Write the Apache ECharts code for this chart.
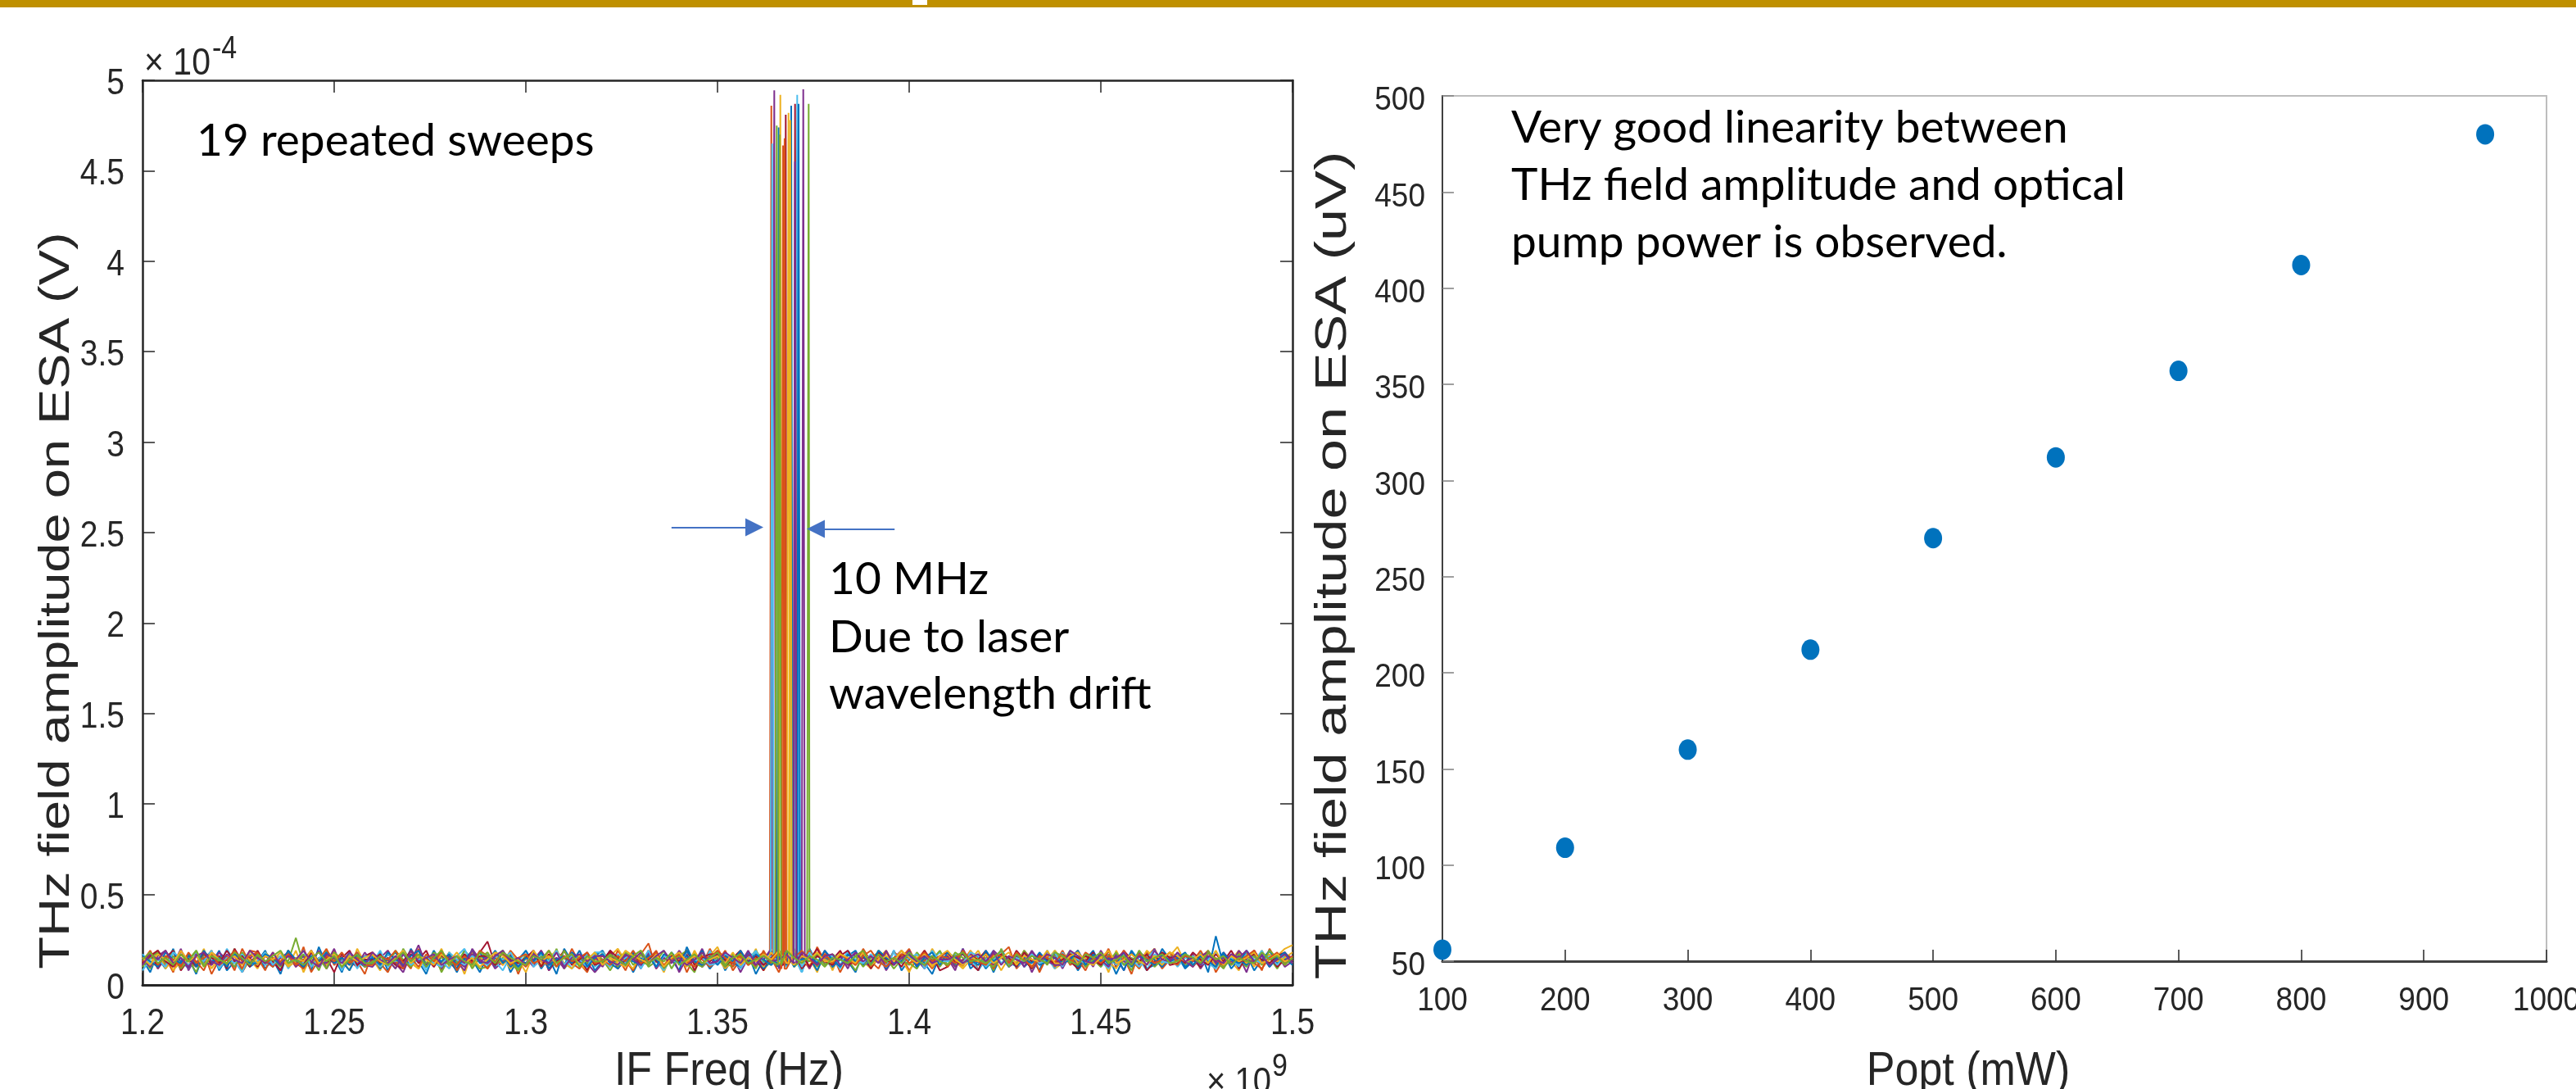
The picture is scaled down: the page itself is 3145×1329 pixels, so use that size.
<!DOCTYPE html>
<html>
<head>
<meta charset="utf-8">
<title>THz sweeps and linearity</title>
<script src="https://cdn.jsdelivr.net/npm/echarts@6/dist/echarts.min.js"></script>
<style>
  html, body { margin: 0; padding: 0; background: #fff; }
  #chart { width: 3145px; height: 1329px; }
</style>
</head>
<body>
<div id="chart"></div>
<script>
// sweep frequency grid (x1e9 Hz)
const FREQ_GHZ = [
  1.200, 1.202, 1.204, 1.206, 1.208, 1.210, 1.212, 1.214, 1.216, 1.218,
  1.220, 1.222, 1.224, 1.226, 1.228, 1.230, 1.232, 1.234, 1.236, 1.238,
  1.240, 1.242, 1.244, 1.246, 1.248, 1.250, 1.252, 1.254, 1.256, 1.258,
  1.260, 1.262, 1.264, 1.266, 1.268, 1.270, 1.272, 1.274, 1.276, 1.278,
  1.280, 1.282, 1.284, 1.286, 1.288, 1.290, 1.292, 1.294, 1.296, 1.298,
  1.300, 1.302, 1.304, 1.306, 1.308, 1.310, 1.312, 1.314, 1.316, 1.318,
  1.320, 1.322, 1.324, 1.326, 1.328, 1.330, 1.332, 1.334, 1.336, 1.338,
  1.340, 1.342, 1.344, 1.346, 1.348, 1.350, 1.352, 1.354, 1.356, 1.358,
  1.360, 1.362, 1.364, 1.366, 1.368, 1.370, 1.372, 1.374, 1.376, 1.378,
  1.380, 1.382, 1.384, 1.386, 1.388, 1.390, 1.392, 1.394, 1.396, 1.398,
  1.400, 1.402, 1.404, 1.406, 1.408, 1.410, 1.412, 1.414, 1.416, 1.418,
  1.420, 1.422, 1.424, 1.426, 1.428, 1.430, 1.432, 1.434, 1.436, 1.438,
  1.440, 1.442, 1.444, 1.446, 1.448, 1.450, 1.452, 1.454, 1.456, 1.458,
  1.460, 1.462, 1.464, 1.466, 1.468, 1.470, 1.472, 1.474, 1.476, 1.478,
  1.480, 1.482, 1.484, 1.486, 1.488, 1.490, 1.492, 1.494, 1.496, 1.498,
  1.500
]

// noise floor of each sweep, in uV (1e-6 V), one value per grid point
const sweep01 = [14,7,18,11,20,9,15,6,17,12,19,8,13,16,10, 17,9,14,6,19,12,16,8,21,11,15,7,18,13,10, 12,18,8,15,10,20,13,6,17,11,16,9,19,14,7, 16,10,19,7,14,12,18,9,15,6,20,13,11,17,8, 13,19,9,16,7,15,11,18,10,14,8,21,12,16,9, 18,8,15,11,17,6,14,19,10,13,16,7,20,12,15, 9,16,13,7,18,11,15,10,19,8,14,17,12,6,16, 15,11,20,9,13,17,7,16,12,18,10,14,8,19,11, 12,17,8,14,19,10,16,6,15,13,18,9,11,20,14, 16,9,13,18,7,27,11,15,10,17,8,14,19,12,16, 13]
const sweep02 = [11,17,9,15,7,19,13,10,18,6,14,16,8,20,12, 15,8,18,12,16,10,21,7,14,11,19,9,17,13,6, 18,12,7,16,14,9,20,11,15,8,17,13,10,19,14, 9,15,11,18,6,16,13,19,8,14,10,20,12,7,17, 14,10,19,13,8,17,23,9,15,12,18,7,16,11,20, 12,18,8,14,16,10,19,13,7,17,11,15,9,21,13, 17,7,15,11,20,13,9,18,12,16,8,14,19,10,15, 10,16,13,19,8,15,11,17,21,9,14,18,7,16,12, 19,11,14,8,17,12,20,10,15,6,18,13,16,9,14, 13,17,10,15,19,7,14,12,18,11,16,8,20,13,17, 15]
const sweep03 = [16,10,14,19,8,13,17,11,20,9,15,12,18,7,14, 9,17,12,15,10,19,7,16,13,11,18,14,8,20,12, 14,8,19,11,17,13,9,15,12,20,10,16,6,18,13, 18,12,15,9,14,7,17,11,19,13,10,16,12,8,15, 11,16,20,13,9,18,12,15,7,17,14,10,19,11,16, 15,9,13,17,11,20,8,14,16,10,18,12,15,7,19, 8,18,11,16,13,9,15,19,12,14,7,17,10,20,13, 17,13,9,14,19,11,16,8,15,12,18,10,13,16,9, 12,15,18,10,13,17,7,19,11,14,9,16,20,12,15, 14,11,16,9,18,12,15,13,8,17,10,19,12,16,20, 22]
const sweep04 = [13,18,9,15,11,20,8,16,12,17,10,14,19,7,15, 17,11,14,8,19,13,16,10,15,12,20,9,13,18,11, 10,15,19,12,7,17,14,11,18,9,16,13,8,20,14, 16,9,13,17,12,15,10,19,8,14,11,18,15,12,7, 12,19,11,14,16,9,18,13,10,17,7,15,12,20,10, 18,13,16,7,15,11,14,20,9,13,17,10,16,11,19, 11,16,9,18,13,10,17,8,15,19,12,14,9,16,13, 15,8,20,12,14,17,11,16,10,13,18,7,15,12,17, 9,17,13,16,10,19,12,15,8,18,11,14,20,10,15, 14,12,17,9,15,11,18,13,16,7,19,12,14,17,10, 13]
const sweep05 = [15,9,17,12,19,10,14,7,18,13,16,11,20,8,14, 12,18,10,16,13,26,11,15,8,19,14,10,17,12,16, 17,11,14,9,20,13,16,10,18,7,15,12,19,14,9, 10,16,19,12,8,15,13,17,11,20,9,14,16,12,18, 14,8,15,18,11,17,10,13,19,9,16,12,7,18,13, 19,12,10,15,14,9,18,11,16,13,20,8,15,10,17, 11,17,14,8,16,12,19,15,9,14,11,18,13,16,10, 16,10,18,13,11,15,8,20,12,17,14,9,16,11,19, 13,19,9,16,14,10,17,12,15,8,19,13,11,18,12, 17,11,15,12,19,13,9,16,14,10,18,12,15,9,16, 14]
const sweep06 = [8,14,19,11,16,13,9,18,12,15,10,20,13,7,17, 16,11,13,18,9,15,12,19,10,14,17,8,16,12,14, 12,19,10,14,17,11,15,8,18,13,9,16,20,11,15, 17,13,8,16,12,19,10,14,11,18,15,9,13,17,10, 14,10,17,12,19,9,16,13,8,15,18,11,14,10,19, 11,16,13,9,15,18,12,17,14,10,16,7,19,13,12, 15,9,18,14,11,16,13,10,19,12,15,17,9,14,18, 13,17,11,15,8,14,19,12,16,10,13,18,11,15,9, 18,12,15,10,17,13,9,16,11,19,14,8,17,12,16, 10,15,13,18,12,9,16,14,11,17,13,19,10,15,12, 14]
const sweep07 = [13,17,10,15,19,8,14,12,18,11,16,9,20,13,15, 10,16,13,8,18,14,11,19,12,15,7,17,13,10,16, 18,12,15,11,9,17,14,19,10,16,13,8,15,12,18, 24,11,14,17,10,16,12,18,9,13,19,11,15,8,17, 12,18,9,14,16,11,19,13,10,15,12,17,8,16,13, 16,10,15,19,12,14,8,17,13,11,18,9,14,20,11, 14,19,11,13,17,9,16,12,15,10,18,13,11,16,8, 10,15,17,12,8,18,13,16,11,19,14,9,17,12,15, 17,13,9,16,14,11,19,10,15,12,17,8,13,18,11, 12,16,14,10,18,13,11,17,9,15,19,12,16,10,14, 15]
const sweep08 = [17,11,15,9,18,13,16,10,14,19,8,15,12,17,10, 13,19,10,16,12,15,9,18,11,14,17,13,8,16,12, 16,9,14,18,11,13,17,10,19,12,15,7,16,13,18, 11,15,17,10,14,19,12,16,9,15,11,18,13,10,16, 19,12,9,15,13,11,17,14,10,18,13,16,12,19,9, 14,17,12,10,18,15,9,13,16,11,19,12,15,8,17, 10,14,16,19,11,13,17,9,15,12,18,10,14,16,13, 15,12,18,11,16,9,14,19,13,10,15,17,11,13,18, 12,18,10,14,13,17,11,16,8,19,12,15,14,10,16, 16,10,13,17,15,12,18,9,14,11,16,13,19,12,15, 11]
const sweep09 = [12,16,19,10,14,11,17,13,8,18,15,12,16,9,19, 18,13,10,15,17,12,9,16,14,20,11,15,13,18,10, 14,10,17,13,9,19,15,12,16,11,18,8,14,17,13, 9,17,12,19,14,10,16,13,11,18,15,12,9,16,14, 16,13,15,8,18,12,14,19,10,13,17,11,16,14,10, 13,19,10,16,11,15,18,12,14,9,17,13,19,11,15, 17,11,14,13,19,10,16,12,18,15,20,11,14,9,16, 10,15,18,12,14,17,9,16,13,11,19,14,12,17,10, 15,12,16,10,17,13,19,11,15,14,9,18,12,16,13, 11,17,13,19,12,15,10,16,14,18,12,9,15,13,17, 12]
const sweep10 = [15,12,18,9,14,17,11,16,13,19,10,15,12,17,14, 11,18,14,16,10,13,19,12,15,9,17,14,11,16,13, 17,10,13,15,19,12,9,16,14,11,18,13,16,10,15, 13,16,11,18,12,14,17,10,15,19,12,9,16,14,11, 18,14,12,10,16,19,13,15,11,17,14,12,18,10,16, 21,11,17,14,13,16,10,18,12,15,19,13,11,16,14, 12,17,15,11,18,13,16,10,14,19,12,15,17,11,13, 16,13,10,19,14,12,17,15,11,13,18,10,16,14,19, 14,18,12,15,11,16,13,9,17,14,12,19,15,11,16, 21,12,16,13,18,10,15,14,19,12,16,11,17,13,15, 18]
const sweep11 = [14,10,16,19,12,15,9,17,13,11,18,14,10,16,12, 17,13,11,15,18,10,14,12,19,9,16,13,15,11,18, 12,16,14,9,17,13,22,11,15,18,12,14,10,17,13, 15,11,18,13,10,16,14,19,12,15,9,17,13,11,16, 10,17,13,16,14,11,18,9,15,12,19,13,16,10,14, 18,12,15,10,17,13,11,16,14,19,12,15,9,17,13, 13,16,11,18,12,15,17,10,14,13,19,11,16,12,15, 16,10,14,17,13,11,19,15,12,16,10,18,14,13,11, 11,15,19,12,16,14,10,17,13,11,18,15,12,16,14, 15,13,10,16,18,12,15,11,19,14,12,17,10,15,13, 16]
const sweep12 = [10,15,18,12,16,9,14,19,11,17,13,15,10,18,12, 16,12,14,10,19,13,17,11,15,9,18,14,12,16,10, 13,17,11,19,14,10,16,12,18,15,11,13,17,9,15, 18,11,15,13,9,17,12,16,14,10,19,12,15,13,17, 12,16,10,18,15,13,11,17,9,14,16,19,12,10,15, 15,10,17,12,14,19,13,11,16,18,10,14,13,17,11, 17,14,12,16,10,15,18,13,11,17,12,9,16,14,19, 11,18,15,13,17,12,10,16,14,11,19,13,15,12,16, 16,12,19,10,14,16,13,18,11,15,12,17,10,14,18, 13,17,11,15,12,18,10,14,17,13,16,11,19,15,12, 14]
const sweep13 = [17,12,14,10,18,15,11,16,13,19,9,15,12,17,11, 13,18,11,16,12,14,19,10,15,17,12,13,18,9,16, 15,10,17,13,19,11,14,16,12,10,18,14,11,16,13, 11,16,14,18,10,15,12,17,13,19,11,16,14,10,18, 18,13,11,15,17,12,19,10,16,14,12,18,13,15,11, 12,17,15,10,14,19,11,16,13,17,15,10,18,12,16, 16,11,19,14,12,17,13,10,18,12,16,14,11,19,13, 13,15,12,18,16,10,14,19,11,15,13,17,12,14,18, 10,19,14,12,17,13,16,11,18,14,10,15,19,13,12, 17,12,16,11,14,18,13,15,10,19,14,12,16,11,17, 13]
const sweep14 = [12,16,19,13,10,17,14,11,18,15,12,19,13,16,10, 19,12,15,11,17,14,10,18,13,16,12,15,19,11,14, 14,17,11,16,13,19,12,15,10,18,14,11,17,13,16, 16,11,18,14,12,15,19,10,17,13,16,12,14,18,11, 13,19,15,11,17,12,14,18,10,16,13,19,11,15,17, 17,14,12,18,13,16,11,15,19,12,14,17,10,16,13, 11,16,19,12,15,13,18,14,11,17,15,12,19,13,16, 18,13,11,16,14,19,12,17,15,10,18,13,16,14,12, 14,17,15,13,18,11,16,12,19,14,13,17,11,18,15, 16,12,18,14,11,17,13,19,12,15,17,14,12,16,18, 13]
const sweep15 = [16,13,10,18,14,12,17,11,19,13,15,10,17,14,12, 12,17,15,11,19,14,10,16,13,18,12,15,11,17,13, 15,11,18,14,12,16,19,10,15,13,17,11,14,19,12, 13,19,12,16,10,15,13,18,11,14,16,12,19,10,15, 17,12,14,11,18,13,16,10,17,15,12,19,13,11,16, 11,16,13,19,12,17,14,11,15,18,10,14,16,12,19, 14,10,17,13,16,11,19,15,12,13,17,10,15,18,11, 18,15,12,14,11,19,13,16,10,17,14,12,18,13,15, 12,14,19,11,17,13,15,12,18,10,16,14,11,17,13, 15,18,11,16,13,10,17,14,12,19,13,16,10,15,18, 12]
const sweep16 = [13,19,11,16,14,10,18,12,15,17,11,14,19,13,16, 18,12,15,13,17,11,14,19,10,16,13,18,12,15,11, 11,16,14,19,12,15,10,17,13,18,14,11,16,12,19, 16,13,18,11,15,17,12,14,19,10,16,13,15,18,12, 14,11,16,13,19,12,15,18,11,14,17,13,10,16,15, 19,15,12,17,11,14,16,13,18,12,15,19,14,11,17, 12,17,14,11,16,19,13,10,15,17,12,14,18,13,16, 15,12,19,14,13,11,17,16,12,18,14,10,16,15,13, 17,14,11,18,15,12,16,13,19,11,17,15,12,14,18, 13,16,15,12,18,14,11,17,13,16,19,12,15,18,11, 16]
const sweep17 = [15,11,17,14,12,19,13,16,10,18,14,12,16,11,19, 12,16,14,18,11,15,13,19,12,14,17,10,16,13,15, 17,13,11,15,19,12,16,14,11,17,13,18,12,15,10, 14,18,16,12,14,11,19,13,16,12,15,17,11,14,18, 11,15,13,19,16,14,12,17,10,15,18,13,16,12,14, 16,12,18,11,15,13,17,14,19,12,11,16,14,18,13, 13,17,15,12,18,11,14,16,13,19,15,12,17,10,16, 19,14,11,16,13,17,12,15,18,11,16,14,13,19,12, 12,16,18,13,11,15,19,12,14,17,13,11,16,15,18, 16,13,14,17,12,19,11,16,13,15,18,12,14,17,13, 15]
const sweep18 = [11,17,14,19,12,15,10,16,18,13,11,17,14,12,19, 15,12,18,11,16,14,19,13,10,17,15,12,18,14,11, 18,14,12,16,10,19,13,15,17,11,14,16,12,19,13, 12,16,19,13,15,11,17,14,12,18,10,15,17,13,16, 16,13,11,17,14,18,12,16,19,13,15,11,14,18,12, 13,18,15,12,19,11,16,13,14,17,12,18,15,11,16, 17,11,14,18,13,16,12,19,11,15,17,13,16,12,14, 14,16,12,15,17,13,18,11,16,14,12,19,13,17,15, 11,19,16,13,12,17,14,15,18,12,16,11,19,14,13, 18,13,15,11,16,14,12,17,15,19,13,16,11,14,17, 12]
const sweep19 = [14,18,12,15,11,17,13,19,10,16,14,12,18,15,11, 17,13,16,19,12,14,11,15,18,13,16,10,14,17,12, 12,16,11,14,18,13,17,10,15,19,12,16,13,11,18, 16,12,18,15,13,11,16,14,19,12,15,17,10,16,13, 13,17,14,11,16,19,12,15,13,18,11,14,17,12,15, 18,11,15,17,12,14,16,13,11,19,15,12,16,14,10, 15,14,12,16,19,11,17,13,15,12,18,14,11,16,13, 11,16,18,13,14,12,15,19,10,17,13,16,14,12,18, 16,13,11,17,15,18,12,14,16,11,19,13,15,17,12, 13,17,15,12,18,14,16,11,15,13,12,18,14,16,11, 15]
const SWEEPS = [sweep01, sweep02, sweep03, sweep04, sweep05, sweep06, sweep07, sweep08, sweep09, sweep10,
  sweep11, sweep12, sweep13, sweep14, sweep15, sweep16, sweep17, sweep18, sweep19]

// peak of each sweep: centre (x1e9 Hz) and amplitude (x1e-4 V)
const PEAK_FREQ_GHZ = [1.36596, 1.36404, 1.36639, 1.36481, 1.37378, 1.36425, 1.36780, 1.36923, 1.36709, 1.36853,
  1.37237, 1.36545, 1.37079, 1.37023, 1.37115, 1.36750, 1.36900, 1.37020, 1.36620]
const PEAK_AMP = [4.74, 4.86, 4.92, 4.945, 4.87, 4.65, 4.81, 4.86, 4.64, 4.82,
  4.95, 4.75, 4.92, 4.87, 4.87, 4.68, 4.78, 4.55, 4.70]

// right panel: pump power vs THz amplitude
const POPT_MW = [100, 200, 300, 400, 500, 600, 700, 800, 950]
const AMP_UV = [56, 109, 160, 212, 270, 312, 357, 412, 480]

// tick labels
const X1_TICKS = [1.2, 1.25, 1.3, 1.35, 1.4, 1.45, 1.5]
const X1_LABELS = ['1.2', '1.25', '1.3', '1.35', '1.4', '1.45', '1.5']
const Y1_TICKS = [0, 0.5, 1, 1.5, 2, 2.5, 3, 3.5, 4, 4.5, 5]
const Y1_LABELS = ['0', '0.5', '1', '1.5', '2', '2.5', '3', '3.5', '4', '4.5', '5']
const X2_TICKS = [100, 200, 300, 400, 500, 600, 700, 800, 900, 1000]
const X2_LABELS = ['100', '200', '300', '400', '500', '600', '700', '800', '900', '1000']
const Y2_TICKS = [50, 100, 150, 200, 250, 300, 350, 400, 450, 500]
const Y2_LABELS = ['50', '100', '150', '200', '250', '300', '350', '400', '450', '500']

const MATLAB_COLORS = ['#0072BD', '#D95319', '#EDB120', '#7E2F8E', '#77AC30', '#4DBEEE', '#A2142F']
const TXT = '#262626'
const TICK_FONT = '"Liberation Sans", Arial, sans-serif'
const NOTE_FONT = 'Lato, "Open Sans", sans-serif'

function buildSweep(noise, peakFreq, peakAmp) {
  const n = Math.min(FREQ_GHZ.length, noise.length)
  const pts = []
  let k0 = 0
  for (let k = 0; k < n; k++) {
    pts.push([FREQ_GHZ[k], noise[k] / 100])
    if (Math.abs(FREQ_GHZ[k] - peakFreq) < Math.abs(FREQ_GHZ[k0] - peakFreq)) k0 = k
  }
  const base = noise[k0] / 100
  pts.push([peakFreq - 0.0004, base], [peakFreq, peakAmp], [peakFreq + 0.0004, base])
  pts.sort((a, b) => a[0] - b[0])
  return pts
}

const sweepSeries = SWEEPS.map((noise, i) => ({
  type: 'line',
  xAxisIndex: 0,
  yAxisIndex: 0,
  data: buildSweep(noise, PEAK_FREQ_GHZ[i], PEAK_AMP[i]),
  symbol: 'none',
  silent: true,
  lineStyle: { width: 2, color: MATLAB_COLORS[i % 7] },
  itemStyle: { color: MATLAB_COLORS[i % 7] },
  z: 2
}))

// 10 MHz drift arrows
sweepSeries[sweepSeries.length - 1].markLine = {
  silent: true,
  symbol: ['none', 'triangle'],
  symbolSize: [22, 22],
  label: { show: false },
  lineStyle: { color: '#4472C4', width: 2, type: 'solid' },
  data: [
    [{ coord: [1.3380, 2.53] }, { coord: [1.35962, 2.53] }],
    [{ coord: [1.3962, 2.52] }, { coord: [1.37564, 2.52] }]
  ]
}

function text(x, y, str, size, align, extra) {
  return Object.assign({
    type: 'text',
    x: x,
    y: y,
    style: {
      text: str,
      fontSize: size,
      fontFamily: TICK_FONT,
      fill: TXT,
      textAlign: align || 'center',
      textVerticalAlign: 'middle'
    }
  }, extra || {})
}

function note(x, y, str) {
  return {
    type: 'text',
    x: x,
    y: y,
    style: {
      text: str,
      fontSize: 55,
      fontFamily: NOTE_FONT,
      fill: '#000',
      textAlign: 'left',
      textVerticalAlign: 'middle'
    }
  }
}

const axisLineDark = { show: true, onZero: false, lineStyle: { color: TXT, width: 2.5 } }
const tickIn = { show: true, inside: true, length: 15, lineStyle: { color: TXT, width: 1.5 } }

const myChart = echarts.init(document.getElementById('chart'), null, { renderer: 'canvas' })
const option = {
  animation: false,
  backgroundColor: '#fff',
  grid: [
    { left: 174, top: 98, width: 1404, height: 1104, containLabel: false, outerBoundsMode: 'none' },
    {
      left: 1761, top: 117, width: 1348, height: 1056, containLabel: false, outerBoundsMode: 'none',
      show: true, borderColor: '#bdbdbd', borderWidth: 2
    }
  ],
  xAxis: [
    {
      gridIndex: 0, type: 'value', min: 1.2, max: 1.5, interval: 0.05, position: 'bottom',
      axisLine: { show: true, onZero: false, lineStyle: { color: TXT, width: 3 } },
      axisTick: tickIn, axisLabel: { show: false }, splitLine: { show: false }
    },
    {
      gridIndex: 0, type: 'value', min: 1.2, max: 1.5, interval: 0.05, position: 'top',
      axisLine: axisLineDark, axisTick: tickIn, axisLabel: { show: false }, splitLine: { show: false }
    },
    {
      gridIndex: 1, type: 'value', min: 100, max: 1000, interval: 100, position: 'bottom',
      axisLine: { show: true, onZero: false, lineStyle: { color: '#404040', width: 3 } },
      axisTick: Object.assign({}, tickIn, { length: 14 }),
      axisLabel: { show: false }, splitLine: { show: false }
    }
  ],
  yAxis: [
    {
      gridIndex: 0, type: 'value', min: 0, max: 5, interval: 0.5, position: 'left',
      axisLine: axisLineDark, axisTick: tickIn, axisLabel: { show: false }, splitLine: { show: false }
    },
    {
      gridIndex: 0, type: 'value', min: 0, max: 5, interval: 0.5, position: 'right',
      axisLine: axisLineDark, axisTick: tickIn, axisLabel: { show: false }, splitLine: { show: false }
    },
    {
      gridIndex: 1, type: 'value', min: 50, max: 500, interval: 50, position: 'left',
      axisLine: { show: true, onZero: false, lineStyle: { color: '#404040', width: 2 } },
      axisTick: { show: true, inside: true, length: 14, lineStyle: { color: '#808080', width: 1.5 } },
      axisLabel: { show: false }, splitLine: { show: false }
    }
  ],
  series: sweepSeries.concat([
    {
      type: 'scatter',
      xAxisIndex: 2,
      yAxisIndex: 2,
      data: POPT_MW.map((p, i) => [p, AMP_UV[i]]),
      symbol: 'circle',
      symbolSize: [22, 25],
      itemStyle: { color: '#0072BD', opacity: 1 },
      silent: true,
      z: 5
    }
  ])
}
option && myChart.setOption(option)

// tick labels placed through the axes' own scales, slightly stretched like the slide
const tickStretch = { scaleY: 1.12 }
const labels = []
X1_TICKS.forEach((v, i) => {
  labels.push(text(myChart.convertToPixel({ xAxisIndex: 0 }, v), 1250, X1_LABELS[i], 39, 'center', tickStretch))
})
Y1_TICKS.forEach((v, i) => {
  labels.push(text(152, myChart.convertToPixel({ yAxisIndex: 0 }, v) + 5, Y1_LABELS[i], 39, 'right', tickStretch))
})
X2_TICKS.forEach((v, i) => {
  labels.push(text(myChart.convertToPixel({ xAxisIndex: 2 }, v), 1222, X2_LABELS[i], 37, 'center', tickStretch))
})
Y2_TICKS.forEach((v, i) => {
  labels.push(text(1740, myChart.convertToPixel({ yAxisIndex: 2 }, v) + 6, Y2_LABELS[i], 37, 'right', tickStretch))
})

myChart.setOption({
  graphic: [
    // slide top bar
    { type: 'rect', shape: { x: 0, y: 0, width: 3145, height: 9 }, style: { fill: '#BF9000' }, z: 100 },
    { type: 'rect', shape: { x: 1114, y: 0, width: 18, height: 6 }, style: { fill: '#fff' }, z: 101 },
    // exponents
    text(176, 78, '\u00d7 10', 41, 'left', tickStretch),
    text(259, 60, '-4', 34, 'left', tickStretch),
    text(1473, 1322, '\u00d7 10', 40, 'left', tickStretch),
    text(1553, 1302, '9', 34, 'left', tickStretch),
    // axis titles
    text(890, 1308, 'IF Freq (Hz)', 52, 'center', { scaleY: 1.1 }),
    text(2403, 1308, 'Popt (mW)', 52, 'center', { scaleY: 1.1 }),
    text(70, 733, 'THz field amplitude on ESA (V)', 52, 'center', { rotation: Math.PI / 2, scaleX: 1.25 }),
    text(1628, 690, 'THz field amplitude on ESA (uV)', 54, 'center', { rotation: Math.PI / 2, scaleX: 1.3 }),
    // annotations
    note(240, 172, '19 repeated sweeps'),
    note(1012, 707, '10 MHz'),
    note(1012, 778, 'Due to laser'),
    note(1012, 847, 'wavelength drift'),
    note(1845, 156, 'Very good linearity between'),
    note(1845, 226, 'THz field amplitude and optical'),
    note(1845, 296, 'pump power is observed.')
  ].concat(labels)
})
</script>
</body>
</html>
